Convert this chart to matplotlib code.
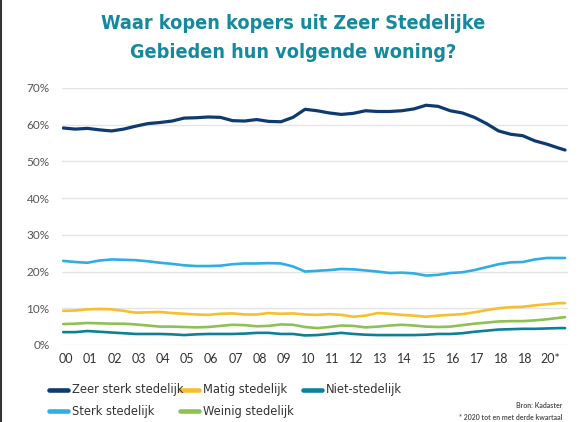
import numpy as np
import matplotlib.pyplot as plt
from matplotlib.lines import Line2D

jaar = [0.0, 0.5, 1.0, 1.5, 2.0, 2.5, 3.0, 3.5, 4.0, 4.5, 5.0, 5.5, 6.0, 6.5, 7.0, 7.5,
        8.0, 8.5, 9.0, 9.5, 10.0, 10.5, 11.0, 11.5, 12.0, 12.5, 13.0, 13.5, 14.0, 14.5,
        15.0, 15.5, 16.0, 16.5, 17.0, 17.5, 18.0, 18.5, 19.0, 19.5, 20.0, 20.5, 20.75]

zeer_sterk = [59.1, 58.8, 59.0, 58.6, 58.3, 58.8, 59.6, 60.3, 60.6, 61.0, 61.8, 61.9, 62.1, 62.0,
              61.1, 61.0, 61.4, 60.9, 60.8, 62.0, 64.2, 63.8, 63.2, 62.8, 63.1, 63.8, 63.6, 63.6,
              63.8, 64.3, 65.3, 65.0, 63.8, 63.2, 62.0, 60.3, 58.3, 57.4, 57.0, 55.6, 54.7, 53.6, 53.1]
sterk = [22.9, 22.6, 22.4, 23.0, 23.3, 23.2, 23.1, 22.8, 22.4, 22.1, 21.7, 21.5, 21.5, 21.6,
         22.0, 22.2, 22.2, 22.3, 22.2, 21.4, 20.0, 20.2, 20.4, 20.7, 20.6, 20.3, 20.0, 19.6,
         19.7, 19.5, 18.9, 19.1, 19.6, 19.8, 20.4, 21.2, 22.0, 22.5, 22.6, 23.3, 23.7, 23.7, 23.7]
matig = [9.3, 9.4, 9.7, 9.8, 9.7, 9.3, 8.8, 8.9, 9.0, 8.7, 8.5, 8.3, 8.2, 8.5, 8.6, 8.3, 8.3,
         8.7, 8.5, 8.6, 8.3, 8.2, 8.4, 8.2, 7.7, 8.0, 8.7, 8.5, 8.2, 8.0, 7.7, 8.0, 8.2, 8.4,
         8.9, 9.5, 10.0, 10.3, 10.4, 10.8, 11.1, 11.4, 11.4]
weinig = [5.7, 5.8, 6.0, 5.9, 5.8, 5.8, 5.6, 5.3, 5.0, 5.0, 4.9, 4.8, 4.9, 5.2, 5.5, 5.4, 5.1,
          5.2, 5.6, 5.5, 4.9, 4.6, 4.9, 5.3, 5.2, 4.8, 5.0, 5.3, 5.5, 5.3, 5.0, 4.9, 5.0, 5.4,
          5.8, 6.1, 6.4, 6.5, 6.5, 6.7, 7.0, 7.4, 7.6]
niet = [3.5, 3.5, 3.8, 3.6, 3.4, 3.2, 3.0, 3.0, 3.0, 2.9, 2.7, 2.9, 3.0, 3.0, 3.0, 3.1, 3.3,
        3.3, 3.0, 3.0, 2.6, 2.7, 3.0, 3.3, 3.0, 2.8, 2.7, 2.7, 2.7, 2.7, 2.8, 3.0, 3.0, 3.2,
        3.6, 3.9, 4.2, 4.3, 4.4, 4.4, 4.5, 4.6, 4.6]

tick_labels = ['00', '01', '02', '03', '04', '05', '06', '07', '08', '09', '10', '11', '12',
               '13', '14', '15', '16', '17', '18', '18', '20*']
y_ticks = [0, 10, 20, 30, 40, 50, 60, 70]

namen = ['Zeer sterk stedelijk', 'Sterk stedelijk', 'Matig stedelijk',
         'Weinig stedelijk', 'Niet-stedelijk']
kleuren = ['#0e3a70', '#2eaee4', '#f8be2c', '#8dc153', '#0a8199']
reeksen = [zeer_sterk, sterk, matig, weinig, niet]

plt.rcParams['font.family'] = ['Lato', 'DejaVu Sans']

fig = plt.figure(figsize=(5.87, 4.22), dpi=100)
ax = fig.add_axes([0.1056, 0.1825, 0.862, 0.609])

for i, (serie, kleur) in enumerate(zip(reeksen, kleuren)):
    lw = 2.3 if i == 0 else 1.9
    ax.plot(jaar, serie, color=kleur, lw=lw, solid_capstyle='round', zorder=3)

ax.set_xlim(-0.05, 20.87)
ax.set_ylim(0, 70)
ax.set_yticks(y_ticks)
ax.set_yticklabels([f'{v}%' for v in y_ticks], fontsize=8.5, color='#555555')
ax.set_xticks(np.arange(len(tick_labels)) + 0.12)
ax.set_xticklabels(tick_labels, fontsize=9, color='#333333')
ax.tick_params(axis='both', length=0)
ax.tick_params(axis='y', pad=9)
ax.tick_params(axis='x', pad=6)
ax.grid(axis='y', color='#e4e4e4', lw=1)
ax.set_axisbelow(True)
for s in ax.spines.values():
    s.set_visible(False)

# titel in smalle vette letter
fig.text(0.5, 0.945, 'Waar kopen kopers uit Zeer Stedelijke', ha='center', va='center',
         fontsize=14.2, fontweight='bold', color='#168a9c', family='DejaVu Sans',
         fontstretch='condensed')
fig.text(0.5, 0.875, 'Gebieden hun volgende woning?', ha='center', va='center',
         fontsize=14.2, fontweight='bold', color='#168a9c', family='DejaVu Sans',
         fontstretch='condensed')

# legenda handmatig
posities = [(49, 390), (49, 411), (180, 390), (180, 411), (303, 390)]
for (px, py), naam, kleur in zip(posities, namen, kleuren):
    fy = 1 - py / 422
    fig.add_artist(Line2D([px / 587, (px + 19) / 587], [fy, fy], color=kleur, lw=3.3,
                          solid_capstyle='round', transform=fig.transFigure))
    fig.text((px + 23) / 587, fy, naam, ha='left', va='center', fontsize=9.2,
             color='#333333', family='DejaVu Sans', fontstretch='condensed')

fig.text(0.958, 1 - 406 / 422, 'Bron: Kadaster', ha='right', va='center', fontsize=5,
         fontweight='bold', color='#555555')
fig.text(0.958, 1 - 417 / 422, '* 2020 tot en met derde kwartaal', ha='right', va='center',
         fontsize=5, fontweight='bold', color='#555555')

fig.add_artist(Line2D([0.002, 0.002], [0, 1], color='#333333', lw=1.5, transform=fig.transFigure))

fig.savefig('out.png', dpi=100)
